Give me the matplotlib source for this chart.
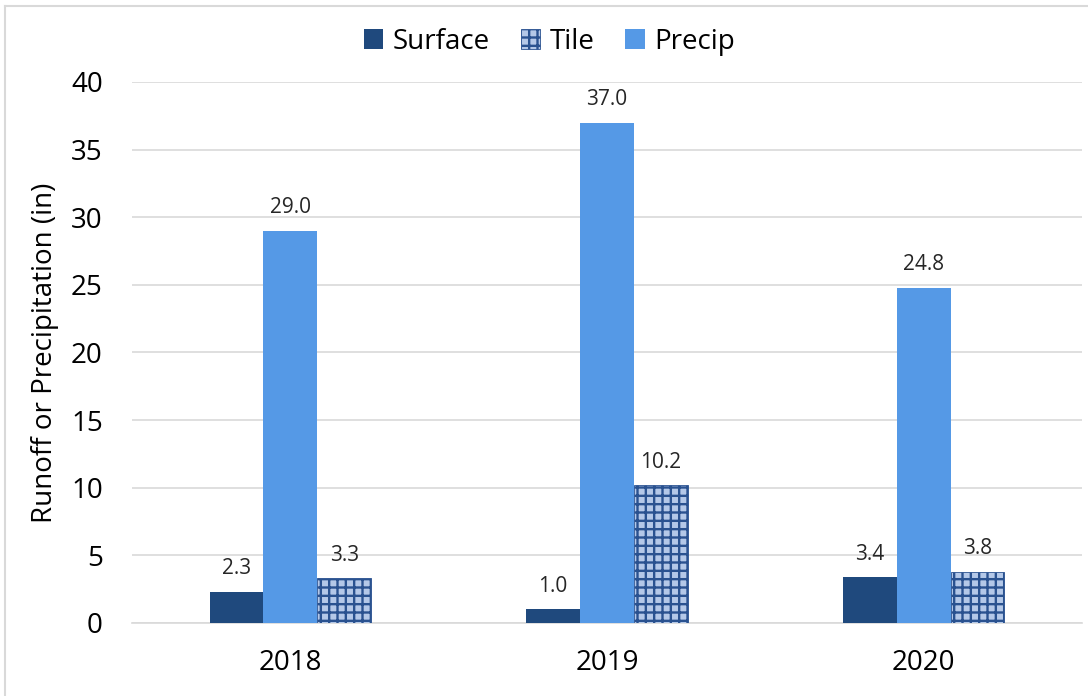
import matplotlib.pyplot as plt
import matplotlib.lines as mlines
import numpy as np

years = ['2018', '2019', '2020']
surface = [2.3, 1.0, 3.4]
precip = [29.0, 37.0, 24.8]
tile = [3.3, 10.2, 3.8]

plt.rcParams['font.family'] = ['Open Sans', 'DejaVu Sans']
plt.rcParams['hatch.linewidth'] = 1.7

fig = plt.figure(figsize=(10.88, 6.96), dpi=100)
ax = fig.add_axes([0.1213, 0.1049, 0.8732, 0.7773])

x = np.arange(len(years))
w = 0.17

b_surf = ax.bar(x - w, surface, w, color='#1f497d', label='Surface', zorder=3)
b_prec = ax.bar(x, precip, w, color='#5599e6', label='Precip', zorder=3)
b_tile = ax.bar(x + w, tile, w, color='#b4c8e8', edgecolor='#2a5290',
                linewidth=0.6, hatch='++', label='Tile', zorder=3)

for bars, vals in [(b_surf, surface), (b_prec, precip), (b_tile, tile)]:
    for rect, v in zip(bars, vals):
        ax.annotate('{:.1f}'.format(v),
                    (rect.get_x() + rect.get_width() / 2, rect.get_height()),
                    xytext=(0, 9), textcoords='offset points',
                    ha='center', va='bottom', fontsize=15, color='#262626')

ax.set_xlim(-0.5, 2.5)
ax.set_ylim(0, 40)
ax.set_yticks(range(0, 41, 5))
ax.set_xticks(x)
ax.set_xticklabels(years)
ax.tick_params(axis='both', length=0, labelsize=20, colors='#000000')
ax.tick_params(axis='y', pad=21)
ax.tick_params(axis='x', pad=19)
ax.grid(axis='y', color='#d9d9d9', linewidth=1.2, zorder=0)
ax.set_axisbelow(True)
for s in ['top', 'right', 'left']:
    ax.spines[s].set_visible(False)
ax.spines['bottom'].set_color('#d9d9d9')
ax.spines['bottom'].set_linewidth(1.2)

ax.set_ylabel('Runoff or Precipitation (in)', fontsize=20, labelpad=9)

fig.legend(handles=[b_surf, b_tile, b_prec], labels=['Surface', 'Tile', 'Precip'],
           loc='center', bbox_to_anchor=(0.505, 0.94), ncol=3, frameon=False,
           fontsize=20, handlelength=0.7, handleheight=0.7,
           handletextpad=0.35, columnspacing=1.1)

# chart border (left and top edges visible)
fig.add_artist(mlines.Line2D([0.005, 0.005], [0, 0.991], color='#d9d9d9', lw=1.5))
fig.add_artist(mlines.Line2D([0.005, 1.0], [0.991, 0.991], color='#d9d9d9', lw=1.5))

fig.savefig('out.png', dpi=100)
